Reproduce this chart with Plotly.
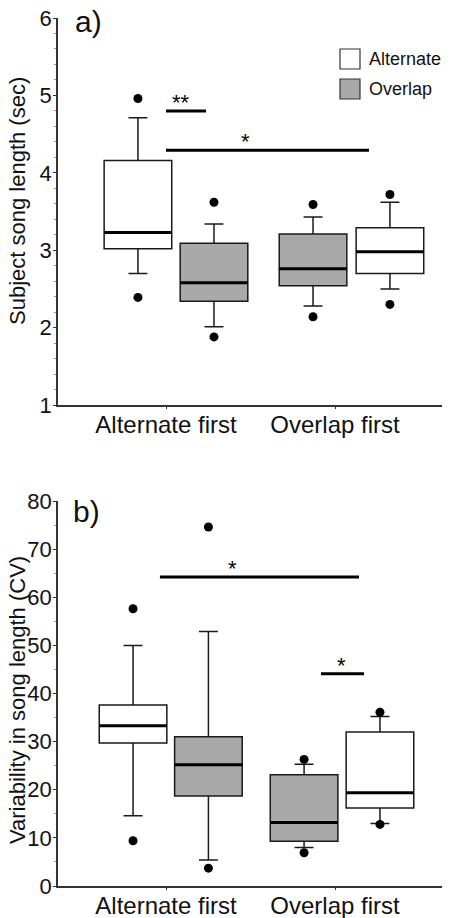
import plotly.graph_objects as go

# ---------------- data ----------------
categories = ["Alternate first", "Overlap first"]
series_names = ["Alternate", "Overlap"]
# box order within the figure: (category, series)
box_category = [0, 0, 1, 1]
box_series = ["Alternate", "Overlap", "Overlap", "Alternate"]

# panel a) subject song length (sec)
a_q1 = [3.02, 2.34, 2.54, 2.70]
a_med = [3.23, 2.58, 2.76, 2.98]
a_q3 = [4.16, 3.09, 3.21, 3.29]
a_lo = [2.70, 2.01, 2.28, 2.50]
a_hi = [4.71, 3.34, 3.43, 3.62]
a_out = [[2.39, 4.96], [1.88, 3.62], [2.14, 3.59], [2.30, 3.72]]

# panel b) variability in song length (CV)
b_q1 = [29.7, 18.7, 9.3, 16.2]
b_med = [33.3, 25.2, 13.2, 19.4]
b_q3 = [37.6, 31.0, 23.1, 32.0]
b_lo = [14.6, 5.4, 8.0, 13.0]
b_hi = [50.0, 52.9, 25.3, 35.2]
b_out = [[9.4, 57.6], [3.7, 74.6], [6.9, 26.3], [12.8, 36.1]]

# significance bars: (x start, x end, y, label, label x)
a_sig = [(0.0, 0.237, 4.80, "**", 0.089), (0.0, 1.201, 4.29, "*", 0.473)]
b_sig = [(-0.036, 1.142, 64.2, "*", 0.396), (0.917, 1.172, 44.1, "*", 1.036)]

# ---------------- style / layout ----------------
FONT = "Liberation Sans, Arial, sans-serif"
COLORS = {"Alternate": "#ffffff", "Overlap": "#a9a9a9"}
LINE = "#1a1a1a"
BOX_W = 0.40
a_pos = [-0.166, 0.284, 0.870, 1.325]
b_pos = [-0.195, 0.251, 0.817, 1.266]
XR = [-0.639, 1.639]

# the page body has an 8px margin; size the figure to fit the window
OFF = 8
W, H = 450 - OFF, 918 - OFF


def px(x):  # window pixel x -> paper fraction
    return (x - OFF) / W


def py(y):  # window pixel y (from top) -> paper fraction
    return 1 - (y - OFF) / H


fig = go.Figure()


def add_panel(xa, ya, pos, q1, med, q3, lo, hi, outs, sigs, sig_txt_dy):
    for i in range(len(pos)):
        fig.add_trace(go.Box(
            x=[pos[i]], q1=[q1[i]], median=[med[i]], q3=[q3[i]],
            lowerfence=[lo[i]], upperfence=[hi[i]],
            width=BOX_W, whiskerwidth=0.28, boxpoints=False,
            fillcolor=COLORS[box_series[i]],
            line=dict(color=LINE, width=1.5),
            xaxis=xa, yaxis=ya, showlegend=False, hoverinfo="skip"))
        fig.add_trace(go.Scatter(
            x=[pos[i] - BOX_W / 2, pos[i] + BOX_W / 2], y=[med[i], med[i]],
            mode="lines", line=dict(color="black", width=3),
            xaxis=xa, yaxis=ya, showlegend=False, hoverinfo="skip"))
        fig.add_trace(go.Scatter(
            x=[pos[i]] * len(outs[i]), y=outs[i], mode="markers",
            marker=dict(color="black", size=9),
            xaxis=xa, yaxis=ya, showlegend=False, hoverinfo="skip"))
    for x0, x1, y, lab, lx in sigs:
        fig.add_trace(go.Scatter(
            x=[x0, x1], y=[y, y], mode="lines",
            line=dict(color="black", width=3),
            xaxis=xa, yaxis=ya, showlegend=False, hoverinfo="skip"))
        fig.add_annotation(x=lx, y=y, xref=xa, yref=ya,
                           text=lab, showarrow=False, yanchor="bottom",
                           yshift=sig_txt_dy,
                           font=dict(family=FONT, size=22, color="black"))


add_panel("x", "y", a_pos, a_q1, a_med, a_q3, a_lo, a_hi, a_out, a_sig, -6)
add_panel("x2", "y2", b_pos, b_q1, b_med, b_q3, b_lo, b_hi, b_out, b_sig, -6)

xdom = [px(58), px(443)]
axis_common = dict(showline=True, linecolor="#333", linewidth=1.5,
                   showgrid=False, zeroline=False, automargin=False,
                   ticklabeloverflow="allow")
xfont = dict(family=FONT, size=24, color="#111")
yfont = dict(family=FONT, size=22, color="#111")

fig.update_layout(
    width=W, height=H,
    margin=dict(l=0, r=0, t=0, b=0, autoexpand=False),
    paper_bgcolor="white", plot_bgcolor="white",
    font=dict(family=FONT, color="#111"),
    showlegend=False,
    xaxis=dict(domain=xdom, anchor="y", range=XR, tickvals=[0, 1],
               ticktext=categories, ticks="outside", ticklen=2,
               tickcolor="#333", tickfont=xfont, ticklabelstandoff=-5,
               **axis_common),
    yaxis=dict(domain=[py(405), py(18)], anchor="x", range=[1, 6],
               tickvals=[1, 2, 3, 4, 5, 6], ticks="outside", ticklen=3,
               tickcolor="#333", tickfont=yfont, ticklabelstandoff=-3,
               minor=dict(ticks="outside", ticklen=2, dtick=0.2,
                          tickcolor="#999"),
               **axis_common),
    xaxis2=dict(domain=xdom, anchor="y2", range=XR, tickvals=[0, 1],
                ticktext=categories, ticks="outside", ticklen=2,
                tickcolor="#333", tickfont=xfont, ticklabelstandoff=-5,
                **axis_common),
    yaxis2=dict(domain=[py(886), py(501)], anchor="x2",
                range=[0, 80], tickvals=list(range(0, 81, 10)),
                ticks="outside", ticklen=3, tickcolor="#333",
                tickfont=yfont, ticklabelstandoff=-3,
                minor=dict(ticks="outside", ticklen=2, dtick=5,
                           tickcolor="#999"),
                **axis_common),
)

# y axis titles
fig.add_annotation(x=px(17), y=py(201), xref="paper", yref="paper",
                   text="Subject song length (sec)", textangle=-90,
                   xanchor="center", yanchor="middle",
                   showarrow=False, font=dict(family=FONT, size=22, color="#111"))
fig.add_annotation(x=px(17), y=py(700), xref="paper", yref="paper",
                   text="Variability in song length (CV)", textangle=-90,
                   xanchor="center", yanchor="middle",
                   showarrow=False, font=dict(family=FONT, size=22, color="#111"))

# panel labels
fig.add_annotation(x=px(73), y=py(22), xref="paper", yref="paper",
                   text="a)", xanchor="left", yanchor="middle", showarrow=False,
                   font=dict(family=FONT, size=30, color="#111"))
fig.add_annotation(x=px(71), y=py(511), xref="paper", yref="paper",
                   text="b)", xanchor="left", yanchor="middle", showarrow=False,
                   font=dict(family=FONT, size=30, color="#111"))

# custom legend
leg_y = [59, 89]
for name, yc in zip(series_names, leg_y):
    fig.add_shape(type="rect", xref="paper", yref="paper",
                  x0=px(340), x1=px(360),
                  y0=py(yc + 10), y1=py(yc - 10),
                  fillcolor=COLORS[name], line=dict(color="#333", width=1.2))
    fig.add_annotation(x=px(367), y=py(yc), xref="paper", yref="paper",
                       text=name, xanchor="left", yanchor="middle",
                       showarrow=False,
                       font=dict(family=FONT, size=18, color="#111"))

fig.write_html("out.html")
